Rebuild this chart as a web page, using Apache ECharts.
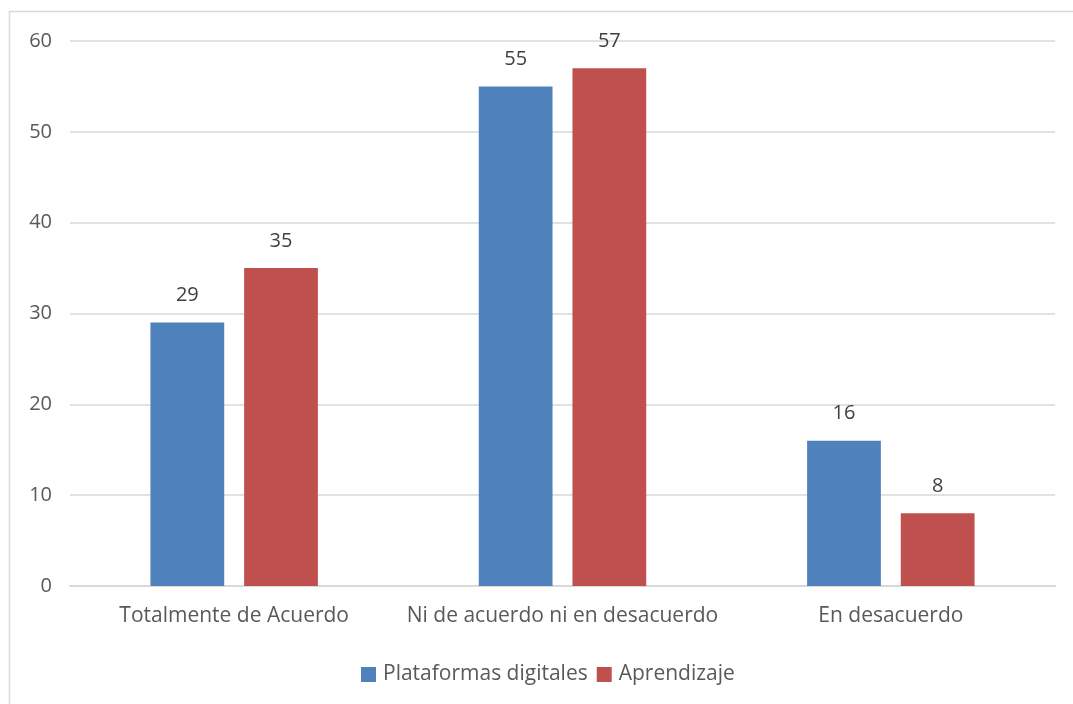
<!DOCTYPE html>
<html><head><meta charset="utf-8">
<script src="https://cdn.jsdelivr.net/npm/echarts@6/dist/echarts.min.js"></script>
<style>html,body{margin:0;padding:0;background:#fff}#c{width:1073px;height:704px}</style>
</head><body><div id="c"></div>
<script>
const categories = ['Totalmente de Acuerdo', 'Ni de acuerdo ni en desacuerdo', 'En desacuerdo'];
const plataformas = [29, 55, 16];
const aprendizaje = [35, 57, 8];
const seriesNames = ['Plataformas digitales', 'Aprendizaje'];

const FONT = 'Open Sans';
const FS = 21;
const TXT = '#595959';
const chart = echarts.init(document.getElementById('c'));
chart.setOption({
  animation: false,
  graphic: [{type:'rect', shape:{x:9.5,y:11.5,width:1100,height:800}, style:{fill:'none', stroke:'#d9d9d9', lineWidth:1.5}}],
  grid: {left: 70, right: 18, top: 41, bottom: 118},
  legend: {bottom: 14, left: 356, itemWidth: 15, itemHeight: 15, itemGap: 9,
    textStyle: {fontFamily: FONT, fontSize: FS, color: TXT, padding: [0, 0, 0, 2]}, icon: 'rect'},
  xAxis: {type: 'category', data: categories,
    axisLine: {lineStyle: {color: '#d9d9d9', width: 2}}, axisTick: {show: false},
    axisLabel: {fontFamily: FONT, fontSize: FS, color: TXT, margin: 20, interval: 0}},
  yAxis: {type: 'value', min: 0, max: 60, interval: 10,
    axisLine: {show: false}, axisTick: {show: false},
    splitLine: {lineStyle: {color: '#d9d9d9', width: 1.5}},
    axisLabel: {fontFamily: FONT, fontSize: 20, color: TXT, margin: 18}},
  series: [
    {name: seriesNames[0], type: 'bar', data: plataformas, barGap: '27%', barCategoryGap: '49%',
     itemStyle: {color: '#4F81BD'},
     label: {show: true, position: 'top', distance: 17, fontFamily: FONT, fontSize: 20, color: '#404040'}},
    {name: seriesNames[1], type: 'bar', data: aprendizaje,
     itemStyle: {color: '#C0504D'},
     label: {show: true, position: 'top', distance: 17, fontFamily: FONT, fontSize: 20, color: '#404040'}}
  ]
});
</script></body></html>
